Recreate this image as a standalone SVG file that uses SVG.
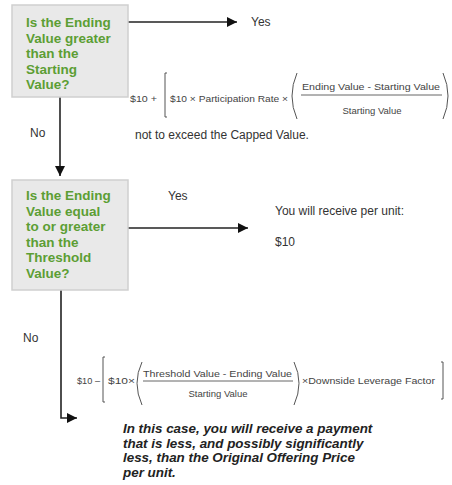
<svg xmlns="http://www.w3.org/2000/svg" width="452" height="485" viewBox="0 0 452 485">
<defs>
<marker id="ah" viewBox="0 0 10 10" refX="10" refY="5" markerWidth="10" markerHeight="10" markerUnits="userSpaceOnUse" orient="auto">
<path d="M0,0 L10,5 L0,10 z" fill="#111"/>
</marker>
<style>
.box{fill:#e9e9e9;stroke:#cfcfcf;stroke-width:1.5}
.q{font-family:"Liberation Sans",Arial,sans-serif;font-weight:bold;font-size:13.5px;fill:#5c9e34}
.lbl{font-family:"Liberation Sans",Arial,sans-serif;font-size:12px;fill:#333}
.f{font-family:"Liberation Sans",Arial,sans-serif;font-size:9.5px;fill:#444}
.br{fill:none;stroke:#555;stroke-width:1}
.em{font-family:"Liberation Sans",Arial,sans-serif;font-weight:bold;font-style:italic;font-size:13.4px;fill:#222}
.con{fill:none;stroke:#222;stroke-width:1.6}
</style>
</defs>
<rect width="452" height="485" fill="#fff"/>

<g id="connectors">
<path class="con" d="M128,22 H237" marker-end="url(#ah)"/>
<path class="con" d="M60,97 V176" marker-end="url(#ah)"/>
<path class="con" d="M128,228 H248" marker-end="url(#ah)"/>
<path class="con" d="M61,290 V418 H77" marker-end="url(#ah)"/>
</g>

<g id="q1">
<rect class="box" x="12" y="5" width="116" height="92"/>
<text class="q" x="26" y="27">Is the Ending</text>
<text class="q" x="26" y="42.5">Value greater</text>
<text class="q" x="26" y="58">than the</text>
<text class="q" x="26" y="73.5">Starting</text>
<text class="q" x="26" y="89">Value?</text>
</g>

<g id="q2">
<rect class="box" x="12" y="180" width="116" height="110"/>
<text class="q" x="26" y="200">Is the Ending</text>
<text class="q" x="26" y="215.5">Value equal</text>
<text class="q" x="26" y="231">to or greater</text>
<text class="q" x="26" y="246.5">than the</text>
<text class="q" x="26" y="262">Threshold</text>
<text class="q" x="26" y="277.5">Value?</text>
</g>

<g id="labels">
<text class="lbl" x="251" y="25.5" font-size="12.5">Yes</text>
<text class="lbl" x="30" y="137">No</text>
<text class="lbl" x="168" y="199.5" font-size="12.5">Yes</text>
<text class="lbl" x="23" y="342">No</text>
</g>

<g id="formula1">
<text class="f" x="130" y="101.5" textLength="27" lengthAdjust="spacingAndGlyphs">$10  +</text>
<path class="br" d="M167,73 H165 V117 H167"/>
<text class="f" x="170" y="101.5" textLength="118" lengthAdjust="spacingAndGlyphs">$10 × Participation Rate ×</text>
<path class="br" d="M297,73 Q287,96 297,119"/>
<text class="f" x="302" y="89.5" textLength="138" lengthAdjust="spacingAndGlyphs">Ending Value - Starting Value</text>
<line x1="301" y1="95" x2="442" y2="95" stroke="#555" stroke-width="0.9"/>
<text class="f" x="372" y="113.5" text-anchor="middle">Starting Value</text>
<path class="br" d="M443,73 Q453,96 443,119"/>
<text class="lbl" x="135" y="139">not to exceed the Capped Value.</text>
</g>

<g id="result-yes">
<text class="lbl" x="275" y="215" font-size="12.5">You will receive per unit:</text>
<text class="lbl" x="275" y="246" font-size="12.5">$10</text>
</g>

<g id="formula2">
<text class="f" x="77" y="383.5" textLength="23" lengthAdjust="spacingAndGlyphs">$10 –</text>
<path class="br" d="M105,357 H103 V402 H105"/>
<text class="f" x="108" y="383.5" textLength="27" lengthAdjust="spacingAndGlyphs">$10×</text>
<path class="br" d="M142,362 Q132,383 142,405"/>
<text class="f" x="143" y="376.5" textLength="149" lengthAdjust="spacingAndGlyphs">Threshold Value - Ending Value</text>
<line x1="143" y1="381" x2="293" y2="381" stroke="#555" stroke-width="0.9"/>
<text class="f" x="218" y="396.5" text-anchor="middle">Starting Value</text>
<path class="br" d="M294,362 Q304,383 294,405"/>
<text class="f" x="302" y="383.5" textLength="133" lengthAdjust="spacingAndGlyphs">×Downside Leverage Factor</text>
<path class="br" d="M441,362 H443 V399 H441"/>
</g>

<g id="result-no">
<text class="em" x="123" y="433">In this case, you will receive a payment</text>
<text class="em" x="123" y="447.5">that is less, and possibly significantly</text>
<text class="em" x="123" y="462">less, than the Original Offering Price</text>
<text class="em" x="123" y="476.5">per unit.</text>
</g>
</svg>
